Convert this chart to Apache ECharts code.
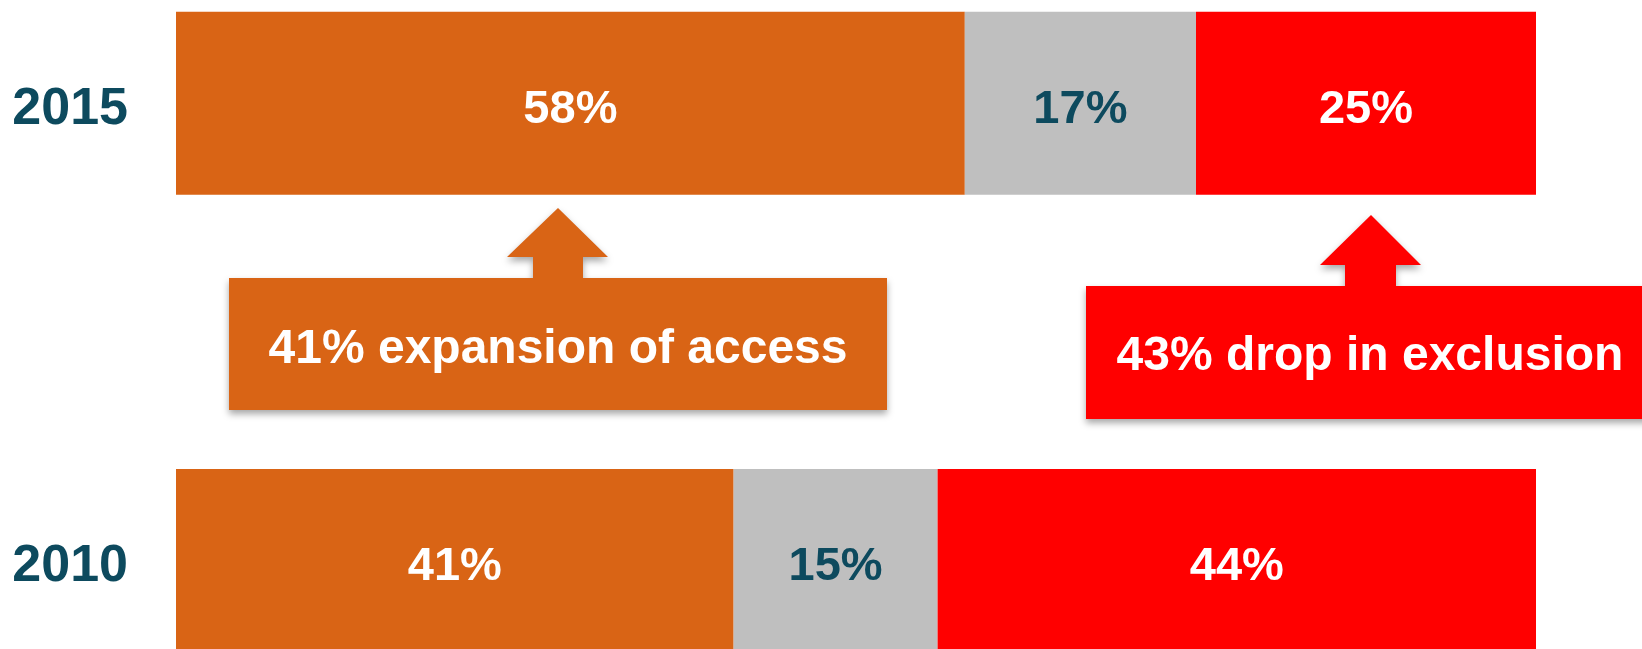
<!DOCTYPE html>
<html>
<head>
<meta charset="utf-8">
<title>Access to financial services, 2010 vs 2015</title>
<script src="https://cdn.jsdelivr.net/npm/echarts@6/dist/echarts.min.js"></script>
<style>
  html, body { margin: 0; padding: 0; background: #ffffff; }
  #chart { width: 1642px; height: 649px; }
</style>
</head>
<body>
<div id="chart"></div>
<script>
// Survey years (bottom to top) and share of adults in each group, in percent
const years = ['2010', '2015'];
const formalShare = [41, 58];
const informalShare = [15, 17];
const excludedShare = [44, 25];

const ORANGE = '#d96415';
const GREY = '#bfbfbf';
const RED = '#ff0000';
const TEAL = '#0d4a5e';
const FONT = 'Arial, "Liberation Sans", sans-serif';

// Change between the two survey years, as stated in the callouts
const accessGrowth = Math.round((formalShare[1] - formalShare[0]) / formalShare[0] * 100);
const exclusionDrop = Math.round((excludedShare[0] - excludedShare[1]) / excludedShare[0] * 100);

function segment(name, values, color, labelColor) {
  return {
    name: name,
    type: 'bar',
    stack: 'total',
    barWidth: 183,
    clip: false,
    data: values,
    itemStyle: { color: color },
    label: {
      show: true,
      position: 'inside',
      offset: [0, 7],
      formatter: '{c}%',
      color: labelColor,
      fontFamily: FONT,
      fontWeight: 'bold',
      fontSize: 47
    },
    emphasis: { disabled: true },
    silent: true
  };
}

// Up-arrow callout: box with a stem and arrow head pointing at the bar above
function callout(box, stem, head, color, text, textY) {
  const pts = [
    [box.x0, box.y0], [stem.x0, box.y0], [stem.x0, head.baseY], [head.x0, head.baseY],
    [head.tipX, head.tipY],
    [head.x1, head.baseY], [stem.x1, head.baseY], [stem.x1, box.y0], [box.x1, box.y0],
    [box.x1, box.y1], [box.x0, box.y1]
  ];
  return [
    {
      type: 'polygon',
      shape: { points: pts },
      style: {
        fill: color,
        shadowBlur: 7,
        shadowOffsetX: 0,
        shadowOffsetY: 4,
        shadowColor: 'rgba(0,0,0,0.35)'
      },
      silent: true,
      z: 10
    },
    {
      type: 'text',
      x: (box.x0 + Math.min(box.x1, 1654)) / 2,
      y: textY,
      style: {
        text: text,
        fill: '#ffffff',
        font: 'bold 48px ' + FONT,
        align: 'center',
        verticalAlign: 'middle'
      },
      silent: true,
      z: 11
    }
  ];
}

const chart = echarts.init(document.getElementById('chart'), null, { renderer: 'canvas' });

chart.setOption({
  animation: false,
  backgroundColor: '#ffffff',
  // Year bands sit on the grid's top and bottom edges
  grid: { left: 176, right: 106, top: 103.2, height: 457.3 },
  xAxis: {
    type: 'value',
    min: 0,
    max: 100,
    show: false
  },
  yAxis: {
    type: 'category',
    data: years,
    boundaryGap: false,
    axisLine: { show: false },
    axisTick: { show: false },
    splitLine: { show: false },
    axisLabel: {
      margin: 48,
      formatter: '{yr|{value}}',
      rich: {
        yr: {
          padding: [12, 0, 0, 0],
          color: TEAL,
          fontFamily: FONT,
          fontWeight: 'bold',
          fontSize: 52
        }
      }
    }
  },
  series: [
    segment('Formal', formalShare, ORANGE, '#ffffff'),
    segment('Informal', informalShare, GREY, TEAL),
    segment('Excluded', excludedShare, RED, '#ffffff')
  ],
  graphic: [].concat(
    callout(
      { x0: 229, x1: 887, y0: 278, y1: 410 },
      { x0: 533, x1: 583 },
      { x0: 507, x1: 608, baseY: 257, tipX: 558, tipY: 208 },
      ORANGE,
      accessGrowth + '% expansion of access',
      350
    ),
    callout(
      { x0: 1086, x1: 1660, y0: 286, y1: 419 },
      { x0: 1345, x1: 1396 },
      { x0: 1320, x1: 1421, baseY: 265, tipX: 1371, tipY: 215 },
      RED,
      exclusionDrop + '% drop in exclusion',
      357
    )
  )
});
</script>
</body>
</html>
